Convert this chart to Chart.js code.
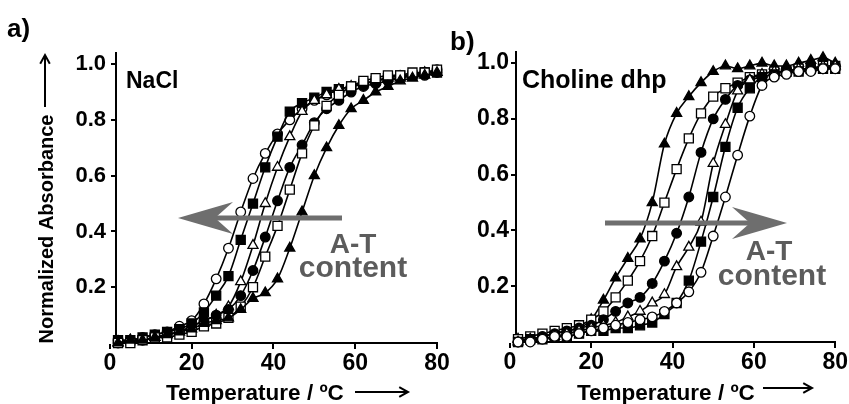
<!DOCTYPE html>
<html><head><meta charset="utf-8">
<script src="https://cdn.jsdelivr.net/npm/chart.js@4.4.0/dist/chart.umd.min.js"></script>
<style>
html,body{margin:0;padding:0;background:#fff;width:849px;height:404px;overflow:hidden}
canvas{position:absolute;left:0;top:0}
</style></head><body>
<canvas id="ca" width="849" height="404"></canvas>
<canvas id="cb" width="849" height="404"></canvas>
<script>
// ---- data ----
const temperatures = [2,5,8,11,14,17,20,23,26,29,32,35,38,41,44,47,50,53,56,59,62,65,68,71,74,77,80];
const xTickValues = [0,20,40,60,80];
const yTickValues = [0.2,0.4,0.6,0.8,1.0];

// panel a: NaCl
const naclOpenCircle    = [0.01,0.01,0.02,0.03,0.04,0.06,0.08,0.14,0.23,0.34,0.47,0.59,0.68,0.75,0.80,0.84,0.87,0.89,0.91,0.92,0.93,0.94,0.95,0.96,0.96,0.97,0.98];
const naclFilledSquare  = [0.01,0.01,0.02,0.03,0.04,0.05,0.07,0.11,0.17,0.24,0.37,0.50,0.63,0.74,0.83,0.86,0.88,0.90,0.91,0.92,0.93,0.94,0.95,0.96,0.96,0.97,0.97];
const naclOpenTriangle  = [0.00,0.01,0.01,0.02,0.03,0.04,0.06,0.08,0.10,0.13,0.22,0.35,0.50,0.63,0.74,0.83,0.87,0.89,0.91,0.92,0.93,0.94,0.95,0.95,0.96,0.97,0.97];
const naclFilledCircle  = [0.00,0.01,0.01,0.02,0.03,0.04,0.06,0.08,0.10,0.12,0.17,0.26,0.38,0.51,0.63,0.71,0.79,0.84,0.87,0.90,0.92,0.93,0.94,0.95,0.96,0.96,0.97];
const naclOpenSquare    = [0.00,0.00,0.01,0.02,0.02,0.03,0.04,0.06,0.07,0.09,0.13,0.20,0.31,0.42,0.55,0.68,0.78,0.85,0.89,0.92,0.94,0.95,0.96,0.96,0.97,0.97,0.98];
const naclFilledTriangle= [0.00,0.01,0.01,0.02,0.03,0.04,0.05,0.07,0.08,0.09,0.12,0.16,0.18,0.23,0.34,0.47,0.60,0.70,0.78,0.84,0.87,0.90,0.92,0.94,0.95,0.96,0.97];

// panel b: Choline dhp
const cholFilledTriangle= [0.01,0.01,0.02,0.03,0.04,0.05,0.08,0.15,0.23,0.30,0.37,0.50,0.71,0.82,0.88,0.93,0.97,0.99,0.98,0.99,1.00,0.99,0.99,1.00,1.01,1.02,1.00];
const cholOpenSquare    = [0.01,0.02,0.03,0.04,0.05,0.06,0.08,0.11,0.16,0.22,0.29,0.38,0.50,0.62,0.73,0.82,0.88,0.91,0.93,0.95,0.96,0.97,0.97,0.98,0.98,0.99,0.99];
const cholFilledCircle  = [0.00,0.01,0.02,0.03,0.04,0.05,0.06,0.08,0.11,0.14,0.16,0.21,0.29,0.39,0.52,0.68,0.80,0.87,0.92,0.94,0.95,0.96,0.97,0.97,0.98,0.98,0.99];
const cholOpenTriangle  = [0.00,0.01,0.01,0.02,0.03,0.04,0.05,0.06,0.07,0.09,0.11,0.14,0.17,0.27,0.34,0.43,0.64,0.78,0.90,0.94,0.96,0.97,0.97,0.98,0.98,0.99,0.99];
const cholFilledSquare  = [0.00,0.01,0.01,0.02,0.02,0.03,0.04,0.04,0.05,0.05,0.06,0.07,0.10,0.14,0.22,0.36,0.52,0.70,0.84,0.91,0.95,0.96,0.97,0.97,0.98,0.98,0.98];
const cholOpenCircle    = [0.00,0.00,0.01,0.02,0.02,0.03,0.04,0.05,0.06,0.07,0.08,0.09,0.11,0.14,0.18,0.25,0.38,0.52,0.67,0.81,0.92,0.95,0.96,0.97,0.97,0.98,0.98];

// ---- styling helpers ----
const FONT = '"Liberation Sans", Arial, sans-serif';
function ds(values, style, filled){
  const radius = style === 'rect' ? 6.4 : (style === 'triangle' ? 5.8 : 4.8);
  return {
    data: temperatures.map((t,i)=>({x:t, y:values[i]})),
    borderColor:'#000', borderWidth:1.6,
    pointStyle: style, pointRadius: radius,
    pointBackgroundColor: filled ? '#000' : '#fff',
    pointBorderColor:'#000', pointBorderWidth:1.3,
    cubicInterpolationMode:'monotone', clip:false
  };
}
function makeOptions(pad, tickFontX, tickFontY, yPad){
  return {
    responsive:false, animation:false, devicePixelRatio:1,
    layout:{padding:pad},
    plugins:{legend:{display:false}, tooltip:{enabled:false}},
    scales:{
      x:{type:'linear', min:1.5, max:80,
        afterBuildTicks:s=>{s.ticks = xTickValues.map(v=>({value:v}));},
        afterFit:s=>{s.height = 30;},
        border:{color:'#000', width:2},
        grid:{drawOnChartArea:false, color:'#000', lineWidth:2, tickLength:6},
        ticks:{autoSkip:false, maxRotation:0, padding:1, color:'#000',
          font:{family:FONT, weight:'bold', size:tickFontX}, callback:v=>String(v)}
      },
      y:{type:'linear', min:0, max:1.04,
        afterBuildTicks:s=>{s.ticks = yTickValues.map(v=>({value:v}));},
        afterFit:s=>{s.width = 50;},
        border:{color:'#000', width:2},
        grid:{drawOnChartArea:false, color:'#000', lineWidth:2, tickLength:5},
        ticks:{padding:yPad, color:'#000',
          font:{family:FONT, weight:'bold', size:tickFontY}, callback:v=>Number(v).toFixed(1)}
      }
    }
  };
}
function txt(ctx, s, x, y, size, align, color){
  ctx.font = 'bold ' + size + 'px ' + FONT;
  ctx.fillStyle = color || '#000';
  ctx.textAlign = align || 'left';
  ctx.textBaseline = 'alphabetic';
  ctx.fillText(s, x, y);
}
function thinArrow(ctx, x1, y1, x2, y2){
  ctx.save();
  ctx.strokeStyle = '#000'; ctx.lineWidth = 2;
  ctx.beginPath(); ctx.moveTo(x1,y1); ctx.lineTo(x2,y2); ctx.stroke();
  const a = Math.atan2(y2-y1, x2-x1), h = 10;
  ctx.beginPath();
  ctx.moveTo(x2 - h*Math.cos(a-0.5), y2 - h*Math.sin(a-0.5));
  ctx.lineTo(x2, y2);
  ctx.lineTo(x2 - h*Math.cos(a+0.5), y2 - h*Math.sin(a+0.5));
  ctx.stroke();
  ctx.restore();
}
function grayArrow(ctx, xTail, xTip, y, dir){
  ctx.save();
  ctx.fillStyle = '#6e6e6e';
  const notch = xTip - dir*37;
  ctx.fillRect(Math.min(xTail, notch), y-2.5, Math.abs(notch - xTail), 5);
  ctx.beginPath();
  ctx.moveTo(xTip, y);
  ctx.lineTo(xTip - dir*55, y-16);
  ctx.lineTo(notch, y);
  ctx.lineTo(xTip - dir*55, y+16);
  ctx.closePath(); ctx.fill();
  ctx.restore();
}

const annotA = {id:'annotA', afterDraw(chart){
  const c = chart.ctx;
  txt(c, 'a)', 7, 37, 26);
  txt(c, 'NaCl', 126, 88, 23);
  c.save(); c.translate(47, 229); c.rotate(-Math.PI/2);
  c.font = 'bold 20px ' + FONT; c.fillStyle = '#000'; c.textAlign='center'; c.textBaseline='middle';
  c.fillText('Normalized Absorbance', 0, 0); c.restore();
  thinArrow(c, 45, 107, 45, 55);
  txt(c, 'Temperature / ºC', 166, 400, 22.5);
  thinArrow(c, 355, 392, 408, 392);
  grayArrow(c, 342, 178, 218, -1);
  txt(c, 'A-T', 353, 253, 28, 'center', '#5c5c5c');
  txt(c, 'content', 353, 277, 30, 'center', '#5c5c5c');
}};
const annotB = {id:'annotB', afterDraw(chart){
  const c = chart.ctx;
  txt(c, 'b)', 450, 50, 26);
  txt(c, 'Choline dhp', 522, 88, 25);
  txt(c, 'Temperature / ºC', 577, 400, 22.5);
  thinArrow(c, 763, 388, 812, 388);
  grayArrow(c, 605, 787, 223, 1);
  txt(c, 'A-T', 769, 260, 28, 'center', '#5c5c5c');
  txt(c, 'content', 772, 285, 30, 'center', '#5c5c5c');
}};

new Chart(document.getElementById('ca'), {
  type:'line',
  data:{datasets:[
    ds(naclFilledTriangle,'triangle',true),
    ds(naclOpenSquare,'rect',false),
    ds(naclFilledCircle,'circle',true),
    ds(naclOpenTriangle,'triangle',false),
    ds(naclFilledSquare,'rect',true),
    ds(naclOpenCircle,'circle',false)
  ]},
  options: makeOptions({left:66, right:412, top:53, bottom:31}, 23, 22, 5),
  plugins:[annotA]
});
new Chart(document.getElementById('cb'), {
  type:'line',
  data:{datasets:[
    ds(cholOpenCircle,'circle',false),
    ds(cholFilledSquare,'rect',true),
    ds(cholOpenTriangle,'triangle',false),
    ds(cholFilledCircle,'circle',true),
    ds(cholOpenSquare,'rect',false),
    ds(cholFilledTriangle,'triangle',true)
  ]},
  options: makeOptions({left:466, right:12, top:52, bottom:32}, 23, 23, 2),
  plugins:[annotB]
});
</script>
</body></html>
